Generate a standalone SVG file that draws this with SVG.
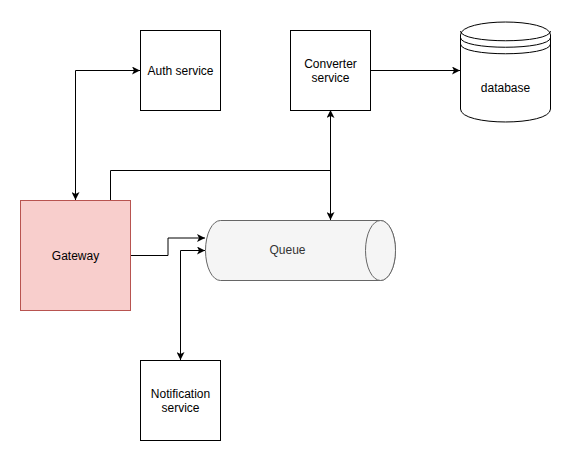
<svg xmlns="http://www.w3.org/2000/svg" width="571" height="461" viewBox="0 0 571 461">
<defs>
<style>
.box{fill:#ffffff;stroke:#000000;stroke-width:1}
.lbl{font-family:"Liberation Sans",Arial,Helvetica,sans-serif;font-size:12px;fill:#000000;text-anchor:middle}
.edge{fill:none;stroke:#000000;stroke-width:1}
</style>
<marker id="arr" viewBox="0 0 8 8" refX="8" refY="4" markerWidth="8" markerHeight="8" markerUnits="userSpaceOnUse" orient="auto-start-reverse">
<path d="M0,0 L8,4 L0,8 L2,4 Z" fill="#000000"/>
</marker>
</defs>
<rect width="571" height="461" fill="#ffffff"/>
<g id="connectors">
<path class="edge" d="M75.5,200 V70.5 H140" marker-start="url(#arr)" marker-end="url(#arr)"/>
<path class="edge" d="M110.5,200 V170.5 H330.5"/>
<path class="edge" d="M330.5,110 V220" marker-start="url(#arr)" marker-end="url(#arr)"/>
<path class="edge" d="M130,255.5 H168 V238 H205" marker-end="url(#arr)"/>
<path class="edge" d="M180.5,360 V250.5 H205" marker-start="url(#arr)" marker-end="url(#arr)"/>
<path class="edge" d="M370,70.5 H460" marker-end="url(#arr)"/>
</g>
<g id="auth">
<rect class="box" x="140.5" y="30.5" width="80" height="80"/>
<text class="lbl" x="180.5" y="74.5">Auth service</text>
</g>
<g id="converter">
<rect class="box" x="290.5" y="30.5" width="80" height="80"/>
<text class="lbl" x="330.5" y="67.5">Converter</text>
<text class="lbl" x="330.5" y="82">service</text>
</g>
<g id="database">
<path class="box" d="M460.5,35 C460.5,17.7 550.5,17.7 550.5,35 L550.5,109 C550.5,126.3 460.5,126.3 460.5,109 Z"/>
<path class="edge" d="M460.5,35 C460.5,48 550.5,48 550.5,35 M460.5,41.5 C460.5,54.5 550.5,54.5 550.5,41.5 M460.5,48 C460.5,61 550.5,61 550.5,48" transform="translate(0,-4)"/>
<text class="lbl" x="505.5" y="92">database</text>
</g>
<g id="gateway">
<rect x="20.5" y="200.5" width="110" height="110" fill="#f8cecc" stroke="#b85450"/>
<text class="lbl" x="75.5" y="259.5">Gateway</text>
</g>
<g id="queue">
<path d="M220.5,220.5 H380.5 A15,30 0 0 1 380.5,280.5 H220.5 A15,30 0 0 1 220.5,220.5 Z" fill="#f5f5f5" stroke="#666666"/>
<ellipse cx="380.5" cy="250.5" rx="15" ry="30" fill="#f5f5f5" stroke="#666666"/>
<text class="lbl" x="287.5" y="254" fill="#333333" style="fill:#333333">Queue</text>
</g>
<g id="notification">
<rect class="box" x="140.5" y="360.5" width="80" height="80"/>
<text class="lbl" x="180.5" y="397.5">Notification</text>
<text class="lbl" x="180.5" y="412">service</text>
</g>
</svg>
